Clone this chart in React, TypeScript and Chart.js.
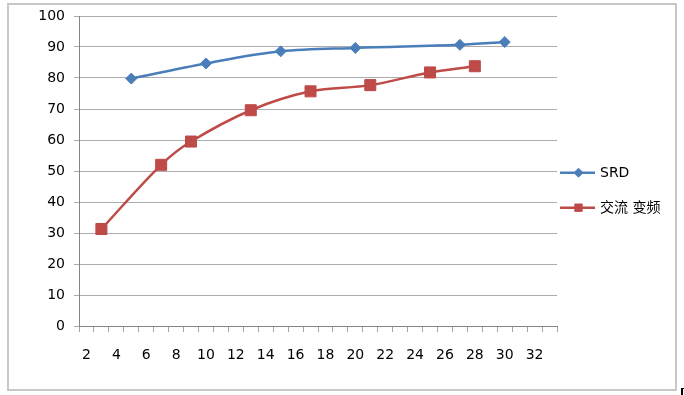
import React, { useEffect, useRef } from "react";
import { Chart, registerables } from "chart.js";

Chart.register(...registerables);

const categories = [
  "2", "3", "4", "5", "6", "7", "8", "9", "10", "11", "12", "13", "14", "15", "16", "17",
  "18", "19", "20", "21", "22", "23", "24", "25", "26", "27", "28", "29", "30", "31", "32", "33",
];

const srdLabel = "SRD";
const srdCategories = ["5", "10", "15", "20", "27", "30"];
const srdValues = [79.8, 84.7, 88.6, 89.7, 90.7, 91.6];

const acLabel = "交流 变频";
const acCategories = ["3", "7", "9", "13", "17", "21", "25", "28"];
const acValues = [31.3, 52.0, 59.5, 69.6, 75.7, 77.7, 81.8, 83.8];

const yMin = 0;
const yMax = 100;
const yStep = 10;

const FONT = "'DejaVu Sans', 'Noto Sans CJK SC', sans-serif";

const legendPlugin = {
  id: "customLegend",
  afterDraw(chart: any) {
    const ctx = chart.ctx;
    const rows = [167.7, 202.7];
    chart.data.datasets.forEach((ds: any, i: number) => {
      const y = rows[i];
      ctx.save();
      ctx.strokeStyle = ds.borderColor;
      ctx.lineWidth = 2.5;
      ctx.beginPath();
      ctx.moveTo(551, y);
      ctx.lineTo(586, y);
      ctx.stroke();
      ctx.fillStyle = ds.pointBackgroundColor;
      ctx.strokeStyle = ds.pointBorderColor;
      ctx.lineWidth = 1;
      const r = ds.pointStyle === "rect" ? 5.2 : 4.5;
      ctx.beginPath();
      if (ds.pointStyle === "rect") {
        const s = r * Math.SQRT1_2;
        ctx.rect(569.5 - s, y - s, 2 * s, 2 * s);
      } else {
        ctx.moveTo(569.5 - r, y);
        ctx.lineTo(569.5, y - r);
        ctx.lineTo(569.5 + r, y);
        ctx.lineTo(569.5, y + r);
        ctx.closePath();
      }
      ctx.fill();
      ctx.stroke();
      ctx.fillStyle = "#000000";
      ctx.font = `14px ${FONT}`;
      ctx.textBaseline = "middle";
      ctx.textAlign = "left";
      ctx.fillText(ds.label, 591, y + 0.5);
      ctx.restore();
    });
  },
};

export default function App() {
  const canvasRef = useRef<HTMLCanvasElement | null>(null);

  useEffect(() => {
    if (!canvasRef.current) return;
    const chart = new Chart(canvasRef.current, {
      type: "line",
      data: {
        labels: categories,
        datasets: [
          {
            label: srdLabel,
            data: srdCategories.map((c, i) => ({ x: c, y: srdValues[i] })),
            borderColor: "#4a7ebb",
            backgroundColor: "#4a7ebb",
            pointBackgroundColor: "#4a7ebb",
            pointBorderColor: "#4a7ebb",
            borderWidth: 2.5,
            pointStyle: "rectRot",
            pointRadius: 5.5,
            pointBorderWidth: 1,
            tension: 0.35,
          },
          {
            label: acLabel,
            data: acCategories.map((c, i) => ({ x: c, y: acValues[i] })),
            borderColor: "#be4b48",
            backgroundColor: "#be4b48",
            pointBackgroundColor: "#be4b48",
            pointBorderColor: "#be4b48",
            borderWidth: 2.5,
            pointStyle: "rect",
            pointRadius: 7.8,
            pointBorderWidth: 1,
            tension: 0.35,
          },
        ],
      },
      options: {
        animation: false,
        responsive: false,
        maintainAspectRatio: false,
        layout: { padding: { top: 11, right: 118, left: 0, bottom: 0 } },
        plugins: {
          legend: { display: false },
          tooltip: { enabled: false },
        },
        scales: {
          x: {
            type: "category",
            offset: true,
            grid: {
              offset: true,
              drawOnChartArea: false,
              drawTicks: true,
              tickLength: 6,
              color: "#a6a6a6",
            },
            border: { color: "#868686", width: 1 },
            ticks: {
              autoSkip: false,
              maxRotation: 0,
              padding: 15,
              color: "#000000",
              font: { family: FONT, size: 14 },
              callback: (_v: any, index: number) => (index % 2 === 0 ? categories[index] : ""),
            },
            afterFit: (scale: any) => {
              scale.height = 63;
              scale.paddingLeft = 0;
              scale.paddingRight = 0;
            },
          },
          y: {
            min: yMin,
            max: yMax,
            ticks: {
              stepSize: yStep,
              padding: 9,
              color: "#000000",
              font: { family: FONT, size: 14 },
            },
            grid: {
              color: "#acacac",
              tickLength: 5,
              lineWidth: 1,
            },
            border: { color: "#868686", width: 1 },
            afterFit: (scale: any) => {
              scale.width = 70;
              scale.paddingTop = 0;
              scale.paddingBottom = 0;
            },
          },
        },
      },
      plugins: [legendPlugin],
    });
    return () => chart.destroy();
  }, []);

  return (
    <div style={{ position: "absolute", left: 0, top: 0, width: 684, height: 395, background: "#ffffff" }}>
      <div
        style={{
          position: "absolute",
          left: 7,
          top: 3,
          width: 670,
          height: 388,
          boxSizing: "border-box",
          border: "2px solid #c8c8c8",
        }}
      >
        <canvas ref={canvasRef} width={666} height={384} style={{ display: "block", width: 666, height: 384 }} />
      </div>
      <div
        style={{
          position: "absolute",
          left: 681,
          top: 388,
          width: 3,
          height: 7,
          boxSizing: "border-box",
          borderLeft: "2px solid #000",
          borderTop: "1px solid #000",
        }}
      />
    </div>
  );
}
